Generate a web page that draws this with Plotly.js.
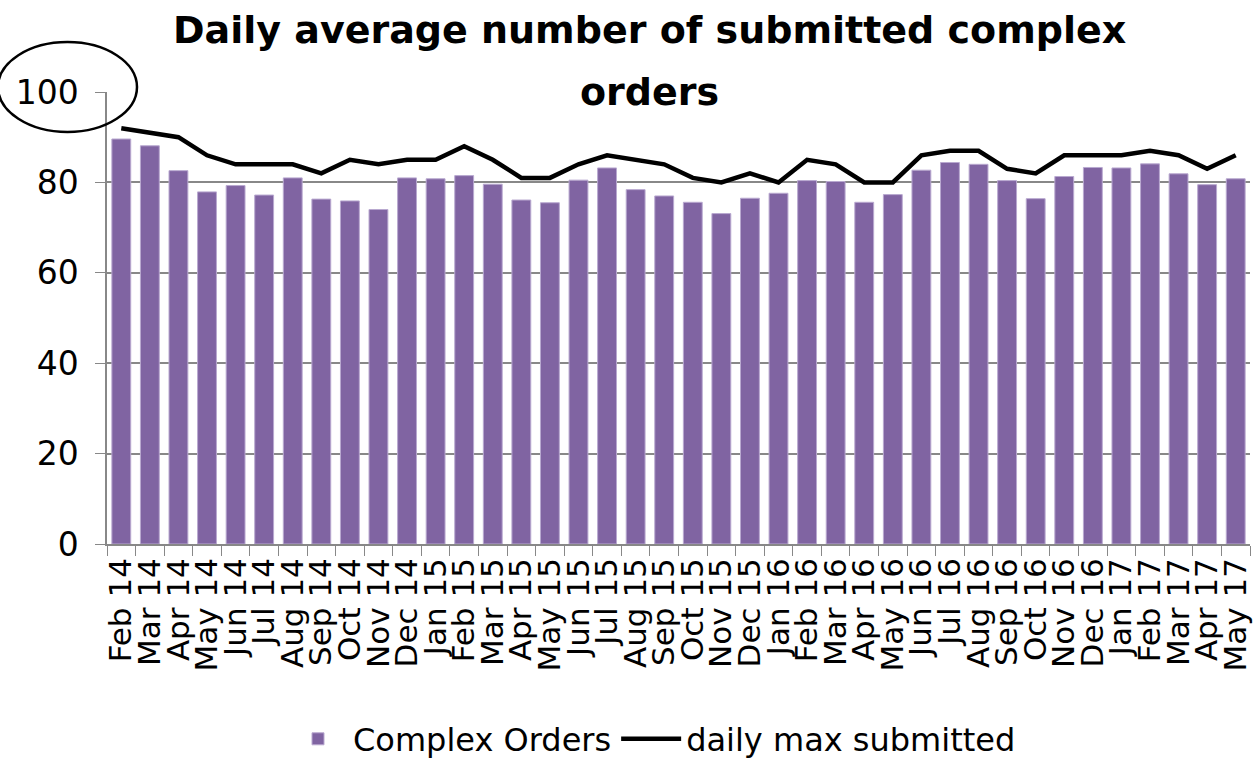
<!DOCTYPE html>
<html>
<head>
<meta charset="utf-8">
<script src="https://cdn.plot.ly/plotly-3.0.1.min.js"></script>
<style>
  html, body { margin: 0; padding: 0; background: #fff; }
  #chart { width: 1257px; height: 759px; }
</style>
</head>
<body>
<div id="chart"></div>
<script>
// Months Feb 14 .. May 17
const months = [
    'Feb 14', 'Mar 14', 'Apr 14', 'May 14', 'Jun 14', 'Jul 14', 'Aug 14', 'Sep 14', 'Oct 14', 'Nov 14', 'Dec 14',
    'Jan 15', 'Feb 15', 'Mar 15', 'Apr 15', 'May 15', 'Jun 15', 'Jul 15', 'Aug 15', 'Sep 15', 'Oct 15', 'Nov 15', 'Dec 15',
    'Jan 16', 'Feb 16', 'Mar 16', 'Apr 16', 'May 16', 'Jun 16', 'Jul 16', 'Aug 16', 'Sep 16', 'Oct 16', 'Nov 16', 'Dec 16',
    'Jan 17', 'Feb 17', 'Mar 17', 'Apr 17', 'May 17'
];

// Daily average complex orders (bars)
const complexOrders = [
    89.6, 88.1, 82.6, 77.9, 79.3, 77.2, 81.0, 76.3, 75.9, 74.0, 81.0,
    80.8, 81.5, 79.6, 76.1, 75.5, 80.5, 83.2, 78.4, 77.0, 75.6, 73.1, 76.5,
    77.6, 80.4, 80.2, 75.6, 77.3, 82.7, 84.4, 84.0, 80.4, 76.4, 81.3, 83.3,
    83.2, 84.1, 81.9, 79.5, 80.8
];

// Daily max submitted (line)
const dailyMax = [
    92, 91, 90, 86, 84, 84, 84, 82, 85, 84, 85,
    85, 88, 85, 81, 81, 84, 86, 85, 84, 81, 80, 82,
    80, 85, 84, 80, 80, 86, 87, 87, 83, 82, 86, 86,
    86, 87, 86, 83, 86
];

const yTicks = [0, 20, 40, 60, 80, 100];

const fontFamily = '"DejaVu Sans", sans-serif';

const bars = {
    x: months,
    y: complexOrders,
    type: 'bar',
    name: 'Complex Orders',
    marker: {
        color: '#8064A2',
        line: { color: '#B9A9D0', width: 1 }
    }
};

const line = {
    x: months,
    y: dailyMax,
    type: 'scatter',
    mode: 'lines',
    name: 'daily max submitted',
    line: { color: '#000000', width: 4.5 }
};

const plotLeft = 107, plotRight = 1250, plotTop = 92, plotBottom = 544;
const pw = plotRight - plotLeft, ph = plotBottom - plotTop;
// helpers to place things in paper units from pixel positions
const px = v => (v - plotLeft) / pw;
const py = v => (plotBottom - v) / ph;

const layout = {
    width: 1257,
    height: 759,
    paper_bgcolor: '#ffffff',
    plot_bgcolor: '#ffffff',
    font: { family: fontFamily, color: '#000000' },
    margin: { l: plotLeft, r: 1257 - plotRight, t: plotTop, b: 759 - plotBottom },
    bargap: 0.34,
    showlegend: true,
    legend: {
        orientation: 'h',
        xref: 'container',
        yref: 'container',
        x: 652 / 1257,
        xanchor: 'center',
        y: 1 - 739 / 759,
        yanchor: 'middle',
        font: { family: fontFamily, size: 32 },
        itemwidth: 60
    },
    xaxis: {
        type: 'category',
        tickmode: 'array',
        tickvals: months,
        ticktext: months,
        tickangle: -90,
        tickfont: { family: fontFamily, size: 31 },
        showline: true,
        linecolor: '#888888',
        linewidth: 1.5,
        ticks: 'outside',
        tickson: 'boundaries',
        ticklen: 10,
        tickcolor: '#888888',
        showgrid: false,
        automargin: false
    },
    yaxis: {
        range: [0, 100],
        tickvals: yTicks,
        tickfont: { family: fontFamily, size: 33 },
        ticklabelstandoff: 10,
        showline: true,
        linecolor: '#888888',
        linewidth: 1.5,
        ticks: 'outside',
        ticklen: 10,
        tickcolor: '#888888',
        showgrid: true,
        gridcolor: '#888888',
        gridwidth: 1.5,
        zeroline: false,
        automargin: false
    },
    annotations: [
        {
            text: '<b>Daily average number of submitted complex</b>',
            xref: 'paper', yref: 'paper',
            x: px(649), y: py(30),
            xanchor: 'center', yanchor: 'middle',
            showarrow: false,
            font: { family: fontFamily, size: 38, color: '#000000' }
        },
        {
            text: '<b>orders</b>',
            xref: 'paper', yref: 'paper',
            x: px(649), y: py(92),
            xanchor: 'center', yanchor: 'middle',
            showarrow: false,
            font: { family: fontFamily, size: 38, color: '#000000' }
        }
    ],
    shapes: [{
        type: 'circle',
        xref: 'paper',
        yref: 'paper',
        x0: px(-2),
        x1: px(137),
        y0: py(132),
        y1: py(42),
        line: { color: '#000000', width: 2.5 }
    }]
};

Plotly.newPlot('chart', [bars, line], layout, { displayModeBar: false });
</script>
</body>
</html>
